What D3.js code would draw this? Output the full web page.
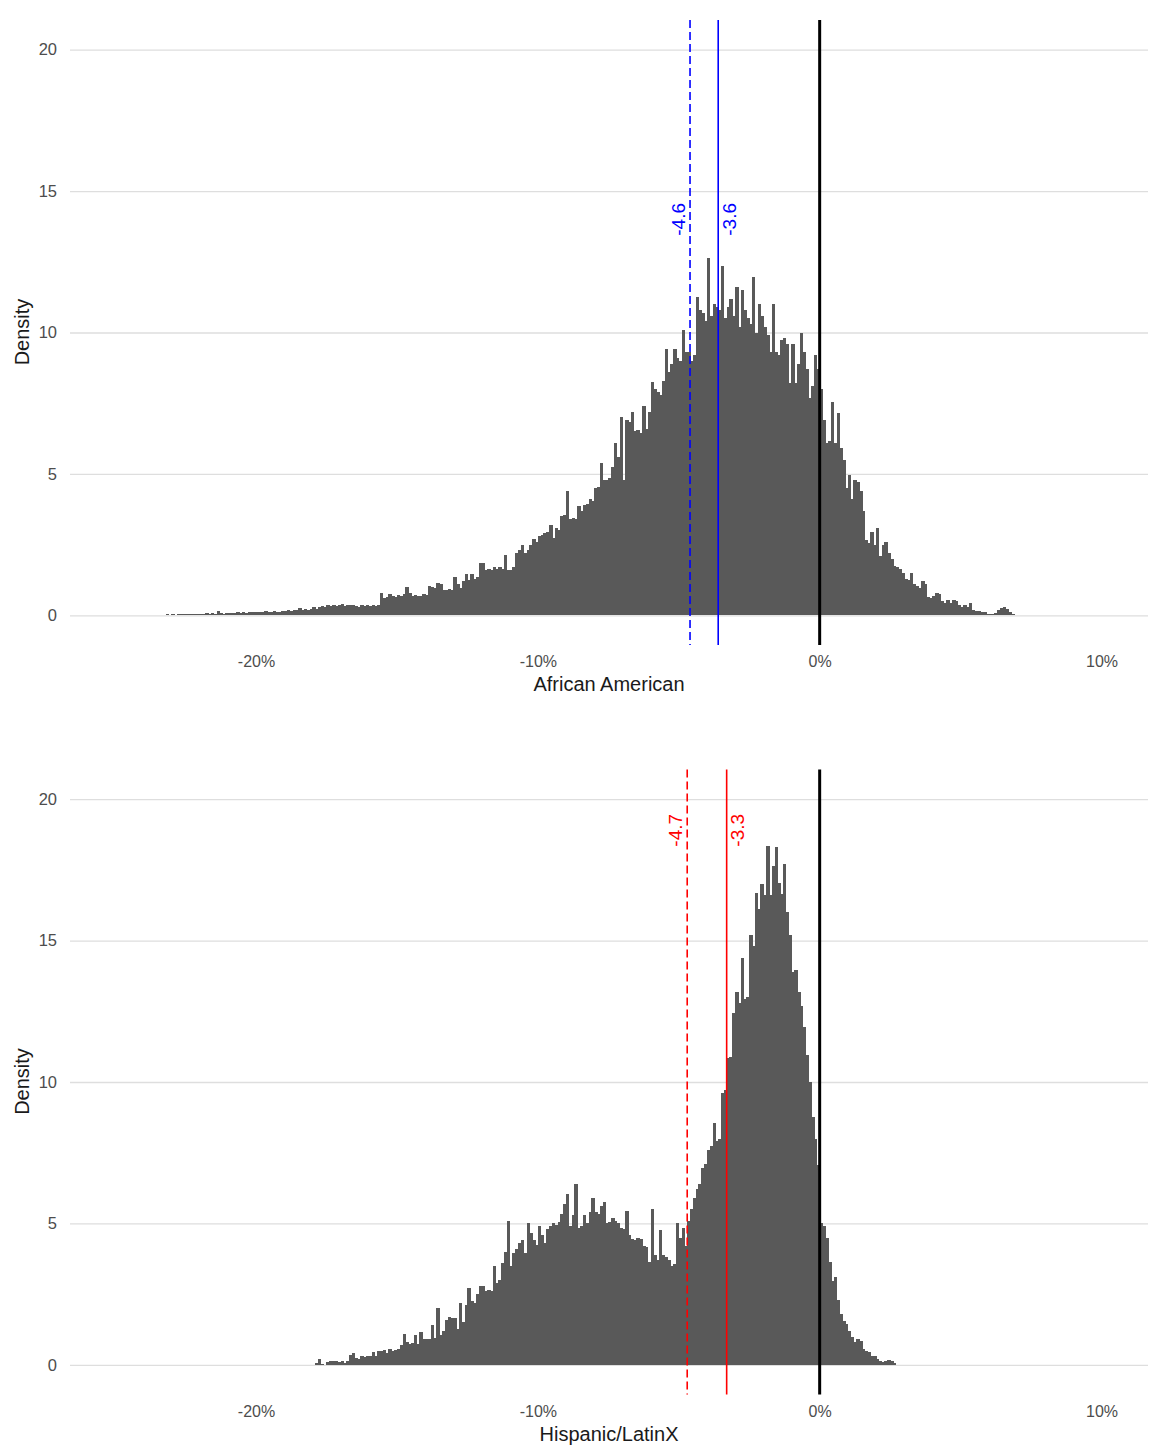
<!DOCTYPE html>
<html>
<head>
<meta charset="utf-8">
<script src="https://cdn.jsdelivr.net/npm/d3@7/dist/d3.min.js"></script>
<style>
  body { margin: 0; background: #fff; }
  text { font-family: "Liberation Sans", Arial, Helvetica, sans-serif; }
</style>
</head>
<body>
<div id="chart"></div>
<script>
// histogram bins are 0.1 percentage points wide
var binWidth = 0.1;

// African American: first bin starts at -23.5%
var aaStart = -23.5;
var aaDensity = [
  0, 0.02, 0, 0.03, 0.02,
  0.03, 0.02, 0.04, 0.03, 0.05, 0.03, 0.04, 0.05, 0.03, 0.05,
  0.06, 0.05, 0.07, 0.05, 0.08, 0.06, 0.15, 0.07, 0.06, 0.08,
  0.07, 0.09, 0.08, 0.1, 0.08, 0.11, 0.09, 0.1, 0.12, 0.1,
  0.11, 0.13, 0.1, 0.14, 0.12, 0.11, 0.15, 0.13, 0.12, 0.16,
  0.16, 0.18, 0.15, 0.2, 0.17, 0.25, 0.19, 0.22, 0.2, 0.24,
  0.3, 0.22, 0.28, 0.32, 0.3, 0.35, 0.33, 0.38, 0.34, 0.36,
  0.4, 0.32, 0.36, 0.35, 0.37, 0.34, 0.3, 0.36, 0.33, 0.35,
  0.34, 0.36, 0.33, 0.38, 0.8, 0.62, 0.66, 0.74, 0.7, 0.66,
  0.72, 0.68, 0.75, 1.0, 0.78, 0.7, 0.72, 0.68, 0.7, 0.74,
  0.72, 1.05, 1.0, 0.95, 1.15, 1.1, 0.9, 0.88, 0.92, 0.9,
  1.35, 1.1, 0.95, 1.2, 1.45, 1.25, 1.45, 1.3, 1.35, 1.85,
  1.85, 1.6, 1.65, 1.6, 1.7, 1.65, 1.7, 1.62, 2.15, 1.6,
  1.6, 1.7, 2.2, 2.3, 2.5, 2.2, 2.3, 2.5, 2.7, 2.6,
  2.8, 2.85, 2.9, 2.95, 3.2, 2.75, 3.1, 3.0, 3.5, 3.55,
  4.4, 3.4, 3.45, 3.4, 3.85, 3.7, 3.9, 3.95, 4.1, 4.05,
  4.5, 4.55, 5.4, 4.8, 4.8, 4.85, 5.25, 6.1, 5.6, 7.0,
  4.8, 6.9, 6.85, 7.2, 6.5, 6.55, 6.45, 7.4, 6.6, 7.2,
  8.25, 8.0, 7.9, 7.8, 8.3, 9.4, 8.6, 8.9, 9.4, 9.1,
  9.0, 10.1, 9.3, 9.3, 9.0, 9.2, 11.25, 10.8, 10.7, 10.4,
  12.65, 10.6, 11.0, 10.9, 10.8, 12.35, 10.5, 10.9, 11.2, 10.6,
  11.6, 10.2, 11.5, 10.8, 10.5, 10.3, 11.95, 10.0, 11.0, 10.6,
  10.2, 9.9, 9.3, 11.0, 9.3, 9.2, 9.75, 9.8, 9.6, 8.2,
  9.6, 8.2, 8.9, 10.0, 9.3, 8.7, 7.7, 8.1, 9.2, 8.7,
  8.0, 6.9, 6.1, 6.15, 7.55, 6.1, 7.15, 5.9, 5.5, 4.5,
  4.95, 4.1, 4.8, 4.7, 4.4, 3.7, 2.65, 2.55, 2.95, 2.5,
  3.1, 2.1, 2.5, 2.6, 2.2, 2.0, 1.75, 1.7, 1.65, 1.5,
  1.3, 1.25, 1.5, 1.1, 1.05, 0.95, 1.2, 1.1, 0.65, 0.6,
  0.7, 0.8, 0.75, 0.5, 0.45, 0.55, 0.45, 0.55, 0.5, 0.35,
  0.3, 0.35, 0.3, 0.45, 0.2, 0.15, 0.15, 0.12, 0.1, 0.06,
  0.05, 0.04, 0.08, 0.18, 0.25, 0.3, 0.22, 0.1, 0.03, 0
];
var aaMedian = -3.6;   // solid line
var aaMean = -4.6;     // dashed line

// Hispanic/LatinX: first bin starts at -18%
var hlStart = -18.0;
var hlDensity = [
  0, 0.05, 0.22, 0.02, 0, 0.1, 0.12, 0.15, 0.13, 0.1,
  0.12, 0.05, 0.15, 0.35, 0.4, 0.25, 0.2, 0.3, 0.28, 0.3,
  0.32, 0.45, 0.3, 0.48, 0.5, 0.52, 0.42, 0.55, 0.5, 0.52,
  0.55, 0.7, 1.1, 0.8, 0.75, 0.78, 1.05, 0.75, 1.15, 0.9,
  0.9, 0.92, 1.4, 0.95, 2.0, 1.05, 1.2, 1.6, 1.7, 1.65,
  1.65, 1.25, 2.2, 1.5, 2.1, 2.7, 2.25, 2.2, 2.5, 2.8,
  2.8, 2.6, 2.65, 2.6, 3.5, 2.9, 3.0, 3.6, 4.0, 5.1,
  3.5, 3.95, 4.1, 4.3, 4.4, 3.95, 5.0, 4.65, 4.4, 4.25,
  4.9, 4.6, 4.3, 4.8, 4.9, 5.0, 4.95, 5.05, 5.35, 5.7,
  6.05, 4.9, 5.3, 6.4, 4.85, 4.9, 5.3, 5.0, 5.4, 5.9,
  5.4, 5.35, 5.6, 5.75, 5.0, 5.05, 5.2, 5.1, 5.0, 4.85,
  4.8, 5.45, 4.6, 4.45, 4.4, 4.5, 4.45, 4.2, 4.15, 3.65,
  5.5, 3.9, 3.7, 4.75, 3.9, 3.8, 3.7, 3.5, 3.55, 5.0,
  4.5, 4.85, 4.2, 5.1, 5.5, 5.9, 6.2, 6.4, 6.95, 7.1,
  7.6, 7.75, 8.55, 7.9, 8.0, 9.6, 9.7, 10.85, 10.9, 12.45,
  13.2, 12.8, 14.4, 12.95, 13.0, 15.2, 14.8, 16.7, 16.1, 17.0,
  16.6, 18.35, 16.6, 17.65, 18.3, 17.05, 16.65, 17.7, 16.0, 15.2,
  13.9, 13.95, 13.2, 12.7, 11.95, 10.95, 10.0, 8.75, 8.0, 7.05,
  5.0, 4.9, 4.5, 3.65, 2.95, 3.1, 2.3, 1.8, 1.55, 1.45,
  1.2, 1.0, 0.8, 0.9, 0.85, 0.55, 0.5, 0.45, 0.3, 0.3,
  0.2, 0.12, 0.1, 0.15, 0.16, 0.12, 0.05
];
var hlMedian = -3.3;
var hlMean = -4.7;

var xTicks = [-20, -10, 0, 10];
var yTicks = [0, 5, 10, 15, 20];

var W = 1150, H = 1446;
var svg = d3.select("#chart").append("svg")
    .attr("width", W).attr("height", H)
    .style("background", "#fff");

var x = d3.scaleLinear().domain([-26.6, 11.65]).range([70, 1148]);

function drawPanel(opt) {
    var y = d3.scaleLinear().domain([-1.05, 21.05]).range([opt.top + 625, opt.top]);
    var g = svg.append("g");

    // horizontal grid only (theme_minimal without vertical lines)
    var yAxis = d3.axisLeft(y).tickValues(yTicks).tickSize(-(1148 - 70)).tickPadding(13);
    g.append("g").attr("transform", "translate(70,0)").call(yAxis)
        .call(function (a) {
            a.select(".domain").remove();
            a.selectAll(".tick line").attr("stroke", "#dedede").attr("stroke-width", 1.3);
            a.selectAll(".tick text").attr("fill", "#4d4d4d").style("font-size", "16.5px");
        });

    var xAxis = d3.axisBottom(x).tickValues(xTicks).tickSize(0).tickPadding(7)
        .tickFormat(function (d) { return d + "%"; });
    g.append("g").attr("transform", "translate(0," + (opt.top + 629) + ")").call(xAxis)
        .call(function (a) {
            a.select(".domain").remove();
            a.selectAll(".tick text").attr("fill", "#4d4d4d").style("font-size", "16px");
        });

    var bins = opt.values.map(function (v, i) {
        return { x0: opt.start + i * binWidth, x1: opt.start + (i + 1) * binWidth, v: v };
    });
    g.append("g").attr("shape-rendering", "crispEdges")
        .selectAll("rect").data(bins).enter().append("rect")
        .attr("x", function (d) { return x(d.x0); })
        .attr("width", function (d) { return x(d.x1) - x(d.x0) + 0.6; })
        .attr("y", function (d) { return y(d.v); })
        .attr("height", function (d) { return y(0) - y(d.v); })
        .attr("fill", "#595959");

    var y0 = y.range()[1], y1 = y.range()[0];
    // mean (dashed), median (solid), zero (black)
    g.append("line").attr("x1", x(opt.mean)).attr("x2", x(opt.mean))
        .attr("y1", y0).attr("y2", y1)
        .attr("stroke", opt.color).attr("stroke-width", 1.6).attr("stroke-dasharray", "8,4");
    g.append("line").attr("x1", x(opt.median)).attr("x2", x(opt.median))
        .attr("y1", y0).attr("y2", y1)
        .attr("stroke", opt.color).attr("stroke-width", 1.6);
    g.append("line").attr("x1", x(0)).attr("x2", x(0))
        .attr("y1", y0).attr("y2", y1)
        .attr("stroke", "#000").attr("stroke-width", 3);

    // rotated value labels
    [[opt.mean, -12], [opt.median, 11]].forEach(function (p) {
        var cx = x(p[0]) + p[1], cy = y(opt.labelY);
        g.append("text")
            .attr("transform", "translate(" + cx + "," + cy + ") rotate(-90)")
            .attr("text-anchor", "middle").attr("dy", "0.35em")
            .attr("fill", opt.color).style("font-size", "19px")
            .text(p[0].toFixed(1));
    });

    g.append("text").attr("x", 609).attr("y", opt.top + 671)
        .attr("text-anchor", "middle").attr("fill", "#1a1a1a")
        .style("font-size", "20px").text(opt.title);
    g.append("text")
        .attr("transform", "translate(29," + (opt.top + 312) + ") rotate(-90)")
        .attr("text-anchor", "middle").attr("fill", "#1a1a1a")
        .style("font-size", "20px").text("Density");
}

drawPanel({ top: 20, start: aaStart, values: aaDensity, mean: aaMean, median: aaMedian,
            color: "#0000ff", labelY: 14.0, title: "African American" });
drawPanel({ top: 769.5, start: hlStart, values: hlDensity, mean: hlMean, median: hlMedian,
            color: "#ff0000", labelY: 18.9, title: "Hispanic/LatinX" });
</script>
</body>
</html>
